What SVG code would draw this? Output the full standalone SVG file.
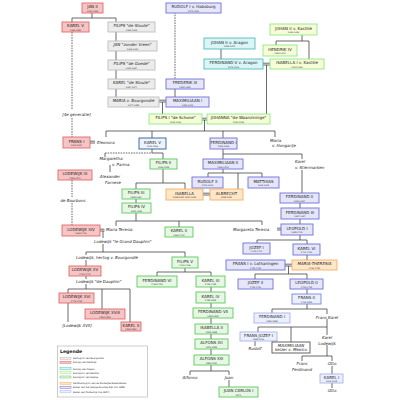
<svg xmlns="http://www.w3.org/2000/svg" width="400" height="400" viewBox="0 0 400 400">
<style>
rect.b{stroke-width:0.9}
.gr{fill:#ececec;stroke:#bdbdbd}
.fr{fill:#f6c4c4;stroke:#e06a6a}
.ar{fill:#d9f5f5;stroke:#55bdbd}
.ka{fill:#f6fcd6;stroke:#8fe88f}
.sp{fill:#e6f8e3;stroke:#5fc75f}
.zn{fill:#fde7c8;stroke:#f2b066}
.hr{fill:#e6e6fb;stroke:#7070d8}
.oo{fill:#eceffd;stroke:#a9b4ec}
.k5{fill:#eef3fb;stroke:#2d5f8f}
.mx{fill:#ffffff;stroke:#555555}
text{font-family:"DejaVu Sans","Liberation Sans",sans-serif;fill:#222}
.n{font-size:4px;text-anchor:middle}
.i{font-style:italic}
.d{font-size:2.1px;text-anchor:middle;fill:#333}
.t{font-size:4px;font-style:italic}
.c{text-anchor:middle}
.ln line,.ln path{stroke:#444;stroke-width:0.8;fill:none}
.ln .ds{stroke-dasharray:1.6,1}
.lg{font-size:2.3px}
</style>
<g class="ln" id="connectors">
<path d="M92 13V18M72 18H116M72 18V22M116 18V22"/>
<path d="M116 32V41M116 51V60M116 70V79M116 89V97"/>
<path class="ds" d="M72 32V110M72 118V137"/>
<path class="ds" d="M175 12V79"/>
<path d="M175 89V97"/>
<path d="M159 100.2H166M159 102H166M162.5 102V114"/>
<path d="M221 49V59"/>
<path d="M302 35V41M276 41H309M276 41V45M309 41V59"/>
<path d="M263 63.2H270M263 65H270M266.5 65V114"/>
<path d="M202 118.2H207M202 120H207M204.5 120V131M106 131H275M106 131V137M152 131V138M223 131V138M275 131V137"/>
<path d="M90 141.2H95M90 143H95"/>
<path d="M152 149V153M152 153H163V159"/>
<path class="ds" d="M105 153H152"/>
<path d="M105 153V157"/>
<path d="M110 165V172"/>
<path d="M223 149V159M223 154H302V159"/>
<path d="M302 170V193"/>
<path d="M223 169V173M208 173H262M208 173V177M238 173V189M262 173V177"/>
<path d="M163 169V183M136 183H185M136 183V189M185 183V189"/>
<path d="M203 193.2H210M203 195H210"/>
<path d="M136 199V203"/>
<path d="M300 203V208M300 219V224"/>
<path d="M136 213V221M116 221H262M116 221V226M179 221V227M262 221V225"/>
<path class="ds" d="M72 180V197M72 203V225"/>
<path d="M100 229.2H104.5M100 231H104.5M103 231V238M103 244V252M86 252H185M86 252V255M185 252V257"/>
<path d="M86 260V266M86 276V279M86 284V289M68 289H130M68 289V293M102 289V309M130 289V322M68 303V322"/>
<path d="M277 228.2H281M277 230H281"/>
<path d="M300 235V240M257 240H307M257 240V243M307 240V244"/>
<path d="M307 255V260"/>
<path d="M285 264.2H292M285 266H292M288.5 266V274M255 274H307M255 274V279M307 274V279"/>
<path d="M307 289V294M307 304V309M272 309H327M272 309V313M327 309V314"/>
<path d="M327 319V327M258 327H327M258 327V332M291 327V342M327 327V335"/>
<path d="M255 341V346"/>
<path d="M327 345V356M302 356H332M302 356V361M332 356V361"/>
<path d="M332 366V374M332 383V388"/>
<path d="M185 268V272M157 272H211M157 272V276M211 272V276"/>
<path d="M211 287V292M211 303V308M211 318V324M211 334V339M211 349V355M211 365V371M190 371H229M190 371V375M229 371V375M229 380V387"/>
</g>
<g id="jan2"><rect class="b fr" x="82" y="3" width="21" height="10"/><text class="n" x="92.5" y="8.2">JAN II</text><text class="d" x="92.5" y="11.6">1350-1364</text></g>
<g id="karel5fr"><rect class="b fr" x="62" y="22" width="27" height="10"/><text class="n" x="75.5" y="27.2">KAREL V</text><text class="d" x="75.5" y="30.6">1364-1380</text></g>
<g id="filipsstoute"><rect class="b gr" x="108" y="22" width="47" height="10"/><text class="n i" x="131.5" y="27.2">FILIPS "de Stoute"</text><text class="d" x="131.5" y="30.6">1363-1404</text></g>
<g id="janzv"><rect class="b gr" x="108" y="41" width="49" height="10"/><text class="n i" x="132.5" y="46.2">JAN "zonder Vrees"</text><text class="d" x="132.5" y="49.6">1404-1419</text></g>
<g id="filipsgoede"><rect class="b gr" x="108" y="60" width="47" height="10"/><text class="n i" x="131.5" y="65.2">FILIPS "de Goede"</text><text class="d" x="131.5" y="68.6">1419-1467</text></g>
<g id="karelstoute"><rect class="b gr" x="108" y="79" width="47" height="10"/><text class="n i" x="131.5" y="84.2">KAREL "de Stoute"</text><text class="d" x="131.5" y="87.6">1467-1477</text></g>
<g id="maria"><rect class="b gr" x="108" y="97" width="51" height="10"/><text class="n i" x="133.5" y="102.2">MARIA v. Bourgondië</text><text class="d" x="133.5" y="105.6">1477-1482</text></g>
<g id="rudolf1"><rect class="b hr" x="166" y="3" width="55" height="10"/><text class="n" x="193.5" y="8.2">RUDOLF I v. Habsburg</text><text class="d" x="193.5" y="11.6">1273-1291</text></g>
<g id="frederik3"><rect class="b hr" x="166" y="79" width="38" height="10"/><text class="n" x="185" y="84.2">FREDERIK III</text><text class="d" x="185" y="87.6">1452-1493</text></g>
<g id="max1"><rect class="b hr" x="166" y="97" width="43" height="10"/><text class="n" x="187.5" y="102.2">MAXIMILIAAN I</text><text class="d" x="187.5" y="105.6">1493-1519</text></g>
<g id="johan2a"><rect class="b ar" x="204" y="38" width="51" height="11"/><text class="n" x="229.5" y="43.5">JOHAN II v. Aragon</text><text class="d" x="229.5" y="47">1458-1479</text></g>
<g id="ferd5"><rect class="b ar" x="204" y="59" width="59" height="10"/><text class="n" x="233.5" y="64.2">FERDINAND V v. Aragon</text><text class="d" x="233.5" y="67.6">1479-1516</text></g>
<g id="johan2k"><rect class="b ka" x="270" y="24" width="47" height="11"/><text class="n" x="293.5" y="29.5">JOHAN II v. Kastilië</text><text class="d" x="293.5" y="33">1406-1454</text></g>
<g id="hendrik4"><rect class="b ka" x="263" y="45" width="34" height="11"/><text class="n" x="280" y="50.5">HENDRIK IV</text><text class="d" x="280" y="54">1454-1474</text></g>
<g id="isabella1"><rect class="b ka" x="270" y="59" width="54" height="10"/><text class="n" x="297" y="64.2">ISABELLA I v. Kastilië</text><text class="d" x="297" y="67.6">1474-1504</text></g>
<g id="filips1"><rect class="b ka" x="149" y="114" width="53" height="10"/><text class="n" x="175.5" y="119.2">FILIPS I "de Schone"</text><text class="d" x="175.5" y="122.6">1504-1506</text></g>
<g id="johanna"><rect class="b ka" x="207" y="114" width="63" height="10"/><text class="n" x="238.5" y="119.2">JOHANNA "de Waanzinnige"</text><text class="d" x="238.5" y="122.6">1504-1555</text></g>
<g id="frans1"><rect class="b fr" x="63" y="137" width="27" height="11"/><text class="n" x="76.5" y="142.5">FRANS I</text><text class="d" x="76.5" y="146">1515-1547</text></g>
<g id="karel5"><rect class="b k5" x="139" y="138" width="27" height="11"/><text class="n" x="152.5" y="143.5">KAREL V</text><text class="d" x="152.5" y="147">1516-1556</text></g>
<g id="ferd1"><rect class="b hr" x="210" y="138" width="27" height="11"/><text class="n" x="223.5" y="143.5">FERDINAND I</text><text class="d" x="223.5" y="147">1556-1564</text></g>
<g id="lodewijk9"><rect class="b fr" x="58" y="170" width="34" height="10"/><text class="n" x="75" y="175.2">LODEWIJK IX</text><text class="d" x="75" y="178.6">1226-1270</text></g>
<g id="filips2"><rect class="b sp" x="150" y="159" width="27" height="10"/><text class="n" x="163.5" y="164.2">FILIPS II</text><text class="d" x="163.5" y="167.6">1556-1598</text></g>
<g id="max2"><rect class="b hr" x="203" y="159" width="40" height="10"/><text class="n" x="223" y="164.2">MAXIMILIAAN II</text><text class="d" x="223" y="167.6">1564-1576</text></g>
<g id="rudolf2"><rect class="b hr" x="192" y="177" width="31" height="11"/><text class="n" x="207.5" y="182.5">RUDOLF II</text><text class="d" x="207.5" y="186">1576-1612</text></g>
<g id="matthias"><rect class="b hr" x="248" y="177" width="31" height="11"/><text class="n" x="263.5" y="182.5">MATTHIAS</text><text class="d" x="263.5" y="186">1612-1619</text></g>
<g id="filips3"><rect class="b sp" x="122" y="189" width="28" height="10"/><text class="n" x="136" y="194.2">FILIPS III</text><text class="d" x="136" y="197.6">1598-1621</text></g>
<g id="isabella"><rect class="b zn" x="166" y="189" width="37" height="11"/><text class="n" x="184.5" y="194.5">ISABELLA</text><text class="d" x="184.5" y="198">1598/1621 1621-1633</text></g>
<g id="albrecht"><rect class="b zn" x="210" y="189" width="33" height="11"/><text class="n" x="226.5" y="194.5">ALBRECHT</text><text class="d" x="226.5" y="198">1598-1621</text></g>
<g id="ferd2"><rect class="b hr" x="280" y="193" width="39" height="10"/><text class="n" x="299.5" y="198.2">FERDINAND II</text><text class="d" x="299.5" y="201.6">1619-1637</text></g>
<g id="filips4"><rect class="b sp" x="122" y="203" width="29" height="10"/><text class="n" x="136.5" y="208.2">FILIPS IV</text><text class="d" x="136.5" y="211.6">1621-1665</text></g>
<g id="ferd3"><rect class="b hr" x="281" y="208" width="38" height="11"/><text class="n" x="300" y="213.5">FERDINAND III</text><text class="d" x="300" y="217">1637-1657</text></g>
<g id="lodewijk14"><rect class="b fr" x="62" y="225" width="38" height="11"/><text class="n" x="81" y="230.5">LODEWIJK XIV</text><text class="d" x="81" y="234">1643-1715</text></g>
<g id="karel2"><rect class="b sp" x="165" y="227" width="28" height="10"/><text class="n" x="179" y="232.2">KAREL II</text><text class="d" x="179" y="235.6">1665-1700</text></g>
<g id="leopold1"><rect class="b hr" x="281" y="224" width="32" height="11"/><text class="n" x="297" y="229.5">LEOPOLD I</text><text class="d" x="297" y="233">1658-1705</text></g>
<g id="jozef1"><rect class="b hr" x="243" y="243" width="27" height="11"/><text class="n" x="256.5" y="248.5">JOZEF I</text><text class="d" x="256.5" y="252">1705-1711</text></g>
<g id="karel6"><rect class="b hr" x="293" y="244" width="27" height="11"/><text class="n" x="306.5" y="249.5">KAREL VI</text><text class="d" x="306.5" y="253">1711-1740</text></g>
<g id="filips5"><rect class="b sp" x="172" y="257" width="26" height="11"/><text class="n" x="185" y="262.5">FILIPS V</text><text class="d" x="185" y="266">1700-1746</text></g>
<g id="frans1l"><rect class="b hr" x="226" y="260" width="59" height="10"/><text class="n" x="255.5" y="265.2">FRANS I v. Lotharingen</text><text class="d" x="255.5" y="268.6">1745-1765</text></g>
<g id="mariatheresia"><rect class="b zn" x="292" y="260" width="45" height="10"/><text class="n i" x="314.5" y="265.2">MARIA-THERESIA</text><text class="d" x="314.5" y="268.6">1740-1780</text></g>
<g id="lodewijk15"><rect class="b fr" x="69" y="266" width="32" height="10"/><text class="n" x="85" y="271.2">LODEWIJK XV</text><text class="d" x="85" y="274.6">1715-1774</text></g>
<g id="ferd6"><rect class="b sp" x="137" y="276" width="40" height="11"/><text class="n" x="157" y="281.5">FERDINAND VI</text><text class="d" x="157" y="285">1746-1759</text></g>
<g id="karel3"><rect class="b sp" x="196" y="276" width="29" height="11"/><text class="n" x="210.5" y="281.5">KAREL III</text><text class="d" x="210.5" y="285">1759-1788</text></g>
<g id="jozef2"><rect class="b hr" x="238" y="279" width="35" height="10"/><text class="n" x="255.5" y="284.2">JOZEF II</text><text class="d" x="255.5" y="287.6">1765-1790</text></g>
<g id="leopold2"><rect class="b hr" x="290" y="279" width="33" height="10"/><text class="n" x="306.5" y="284.2">LEOPOLD II</text><text class="d" x="306.5" y="287.6">1790-1792</text></g>
<g id="karel4"><rect class="b sp" x="196" y="292" width="29" height="11"/><text class="n" x="210.5" y="297.5">KAREL IV</text><text class="d" x="210.5" y="301">1788-1808</text></g>
<g id="lodewijk16"><rect class="b fr" x="59" y="293" width="35" height="10"/><text class="n" x="76.5" y="298.2">LODEWIJK XVI</text><text class="d" x="76.5" y="301.6">1774-1792</text></g>
<g id="frans2"><rect class="b oo" x="292" y="294" width="29" height="10" style="stroke:#7a86dc"/><text class="n" x="306.5" y="299.2">FRANS II</text><text class="d" x="306.5" y="302.6">1792-1835</text></g>
<g id="lodewijk18"><rect class="b fr" x="85" y="309" width="40" height="10"/><text class="n" x="105" y="314.2">LODEWIJK XVIII</text><text class="d" x="105" y="317.6">1814-1824</text></g>
<g id="ferd7"><rect class="b sp" x="193" y="308" width="40" height="10"/><text class="n" x="213" y="313.2">FERDINAND VII</text><text class="d" x="213" y="316.6">1808-1833</text></g>
<g id="ferd1o"><rect class="b oo" x="254" y="313" width="36" height="10"/><text class="n" x="272" y="318.2">FERDINAND I</text><text class="d" x="272" y="321.6">1835-1848</text></g>
<g id="karel10"><rect class="b fr" x="121" y="322" width="20" height="9"/><text class="n" x="131" y="326.7">KAREL X</text><text class="d" x="131" y="329.8">1824-1830</text></g>
<g id="isabella2"><rect class="b sp" x="195" y="324" width="33" height="10"/><text class="n" x="211.5" y="329.2">ISABELLA II</text><text class="d" x="211.5" y="332.6">1833-1868</text></g>
<g id="fransjozef"><rect class="b oo" x="240" y="332" width="37" height="9"/><text class="n" x="258.5" y="336.7">FRANS JOZEF I</text><text class="d" x="258.5" y="339.8">1848-1916</text></g>
<g id="alfons12"><rect class="b sp" x="195" y="339" width="33" height="10"/><text class="n" x="211.5" y="344.2">ALFONS XII</text><text class="d" x="211.5" y="347.6">1874-1885</text></g>
<g id="maxmexico"><rect class="b mx" x="272" y="342" width="38" height="11"/><text class="n i" x="291" y="346.5">MAXIMILIAAN</text><text class="n i" x="291" y="351.3">keizer v. Mexico</text></g>
<g id="alfons13"><rect class="b sp" x="194" y="355" width="35" height="10"/><text class="n" x="211.5" y="360.2">ALFONS XIII</text><text class="d" x="211.5" y="363.6">1886-1931</text></g>
<g id="karel1"><rect class="b oo" x="320" y="374" width="23" height="9"/><text class="n" x="331.5" y="378.7">KAREL I</text><text class="d" x="331.5" y="381.8">1916-1918</text></g>
<g id="juancarlos"><rect class="b sp" x="219" y="387" width="39" height="10"/><text class="n" x="238.5" y="392.2">JUAN CARLOS I</text><text class="d" x="238.5" y="395.6">1975-</text></g>
<g id="labels">
<text class="t c" x="76.5" y="115.5">[4e generatie]</text>
<text class="t" x="97" y="144">Eleonora</text>
<text class="t c" x="111" y="159.5">Margaretha</text>
<text class="t" x="112" y="165.5">v. Parma</text>
<text class="t c" x="110" y="178">Alexander</text>
<text class="t c" x="113" y="184">Farnese</text>
<text class="t c" x="73" y="202">de Bourbons</text>
<text class="t" x="270" y="141.5">Maria</text>
<text class="t" x="272" y="147">v. Hongarije</text>
<text class="t" x="295" y="163">Karel</text>
<text class="t" x="295" y="168.5">v. Stiermarken</text>
<text class="t" x="106" y="231">Maria Teresia</text>
<text class="t" x="94" y="243">Lodewijk "le Grand Dauphin"</text>
<text class="t" x="76" y="259">Lodewijk, hertog v. Bourgondië</text>
<text class="t" x="76" y="283">Lodewijk "de Dauphin"</text>
<text class="t" x="233" y="231">Margareta Teresia</text>
<text class="t c" x="77" y="327">[Lodewijk XVII]</text>
<text class="t c" x="190" y="379">Alfonso</text>
<text class="t c" x="229" y="379">Juan</text>
<text class="t c" x="327" y="318.5">Frans Karel</text>
<text class="t c" x="255" y="350">Rudolf</text>
<text class="t c" x="327" y="339">Karel</text>
<text class="t c" x="327" y="344.5">Lodewijk</text>
<text class="t c" x="302" y="365">Frans</text>
<text class="t c" x="302" y="371">Ferdinand</text>
<text class="t c" x="332" y="365">Otto</text>
<text class="t c" x="332" y="392">Otto</text>
</g>
<g id="legend">
<rect x="57.5" y="346" width="90" height="51" fill="#fff" stroke="#aaa" stroke-width="0.6"/>
<text x="60" y="353" style="font-size:4.6px;font-weight:bold">Legende</text>
<rect class="gr" x="60" y="357.3" width="11" height="2" stroke-width="0.5"/><text class="lg" x="73" y="359.1">Hertog(in) van Bourgondië</text>
<rect class="fr" x="60" y="361.3" width="11" height="2" stroke-width="0.5"/><text class="lg" x="73" y="363.1">Koning van Frankrijk</text>
<rect class="ar" x="60" y="367.7" width="11" height="2" stroke-width="0.5"/><text class="lg" x="73" y="369.5">Koning van Aragon</text>
<rect class="ka" x="60" y="371.7" width="11" height="2" stroke-width="0.5"/><text class="lg" x="73" y="373.5">Koning(in) van Kastilië</text>
<rect class="sp" x="60" y="376" width="11" height="2" stroke-width="0.5"/><text class="lg" x="73" y="377.8">Koning(in) van Spanje</text>
<rect class="zn" x="60" y="382.3" width="11" height="2" stroke-width="0.5"/><text class="lg" x="73" y="384.1">Aartshertog(in) van de Zuidelijke Nederlanden</text>
<rect class="hr" x="60" y="386.3" width="11" height="2" stroke-width="0.5"/><text class="lg" x="73" y="388.1">Keizer van het Heilige Roomse Rijk (tot 1806)</text>
<rect class="oo" x="60" y="390.7" width="11" height="2" stroke-width="0.5"/><text class="lg" x="73" y="392.5">Keizer van Oostenrijk (na 1804)</text>
</g>
</svg>
